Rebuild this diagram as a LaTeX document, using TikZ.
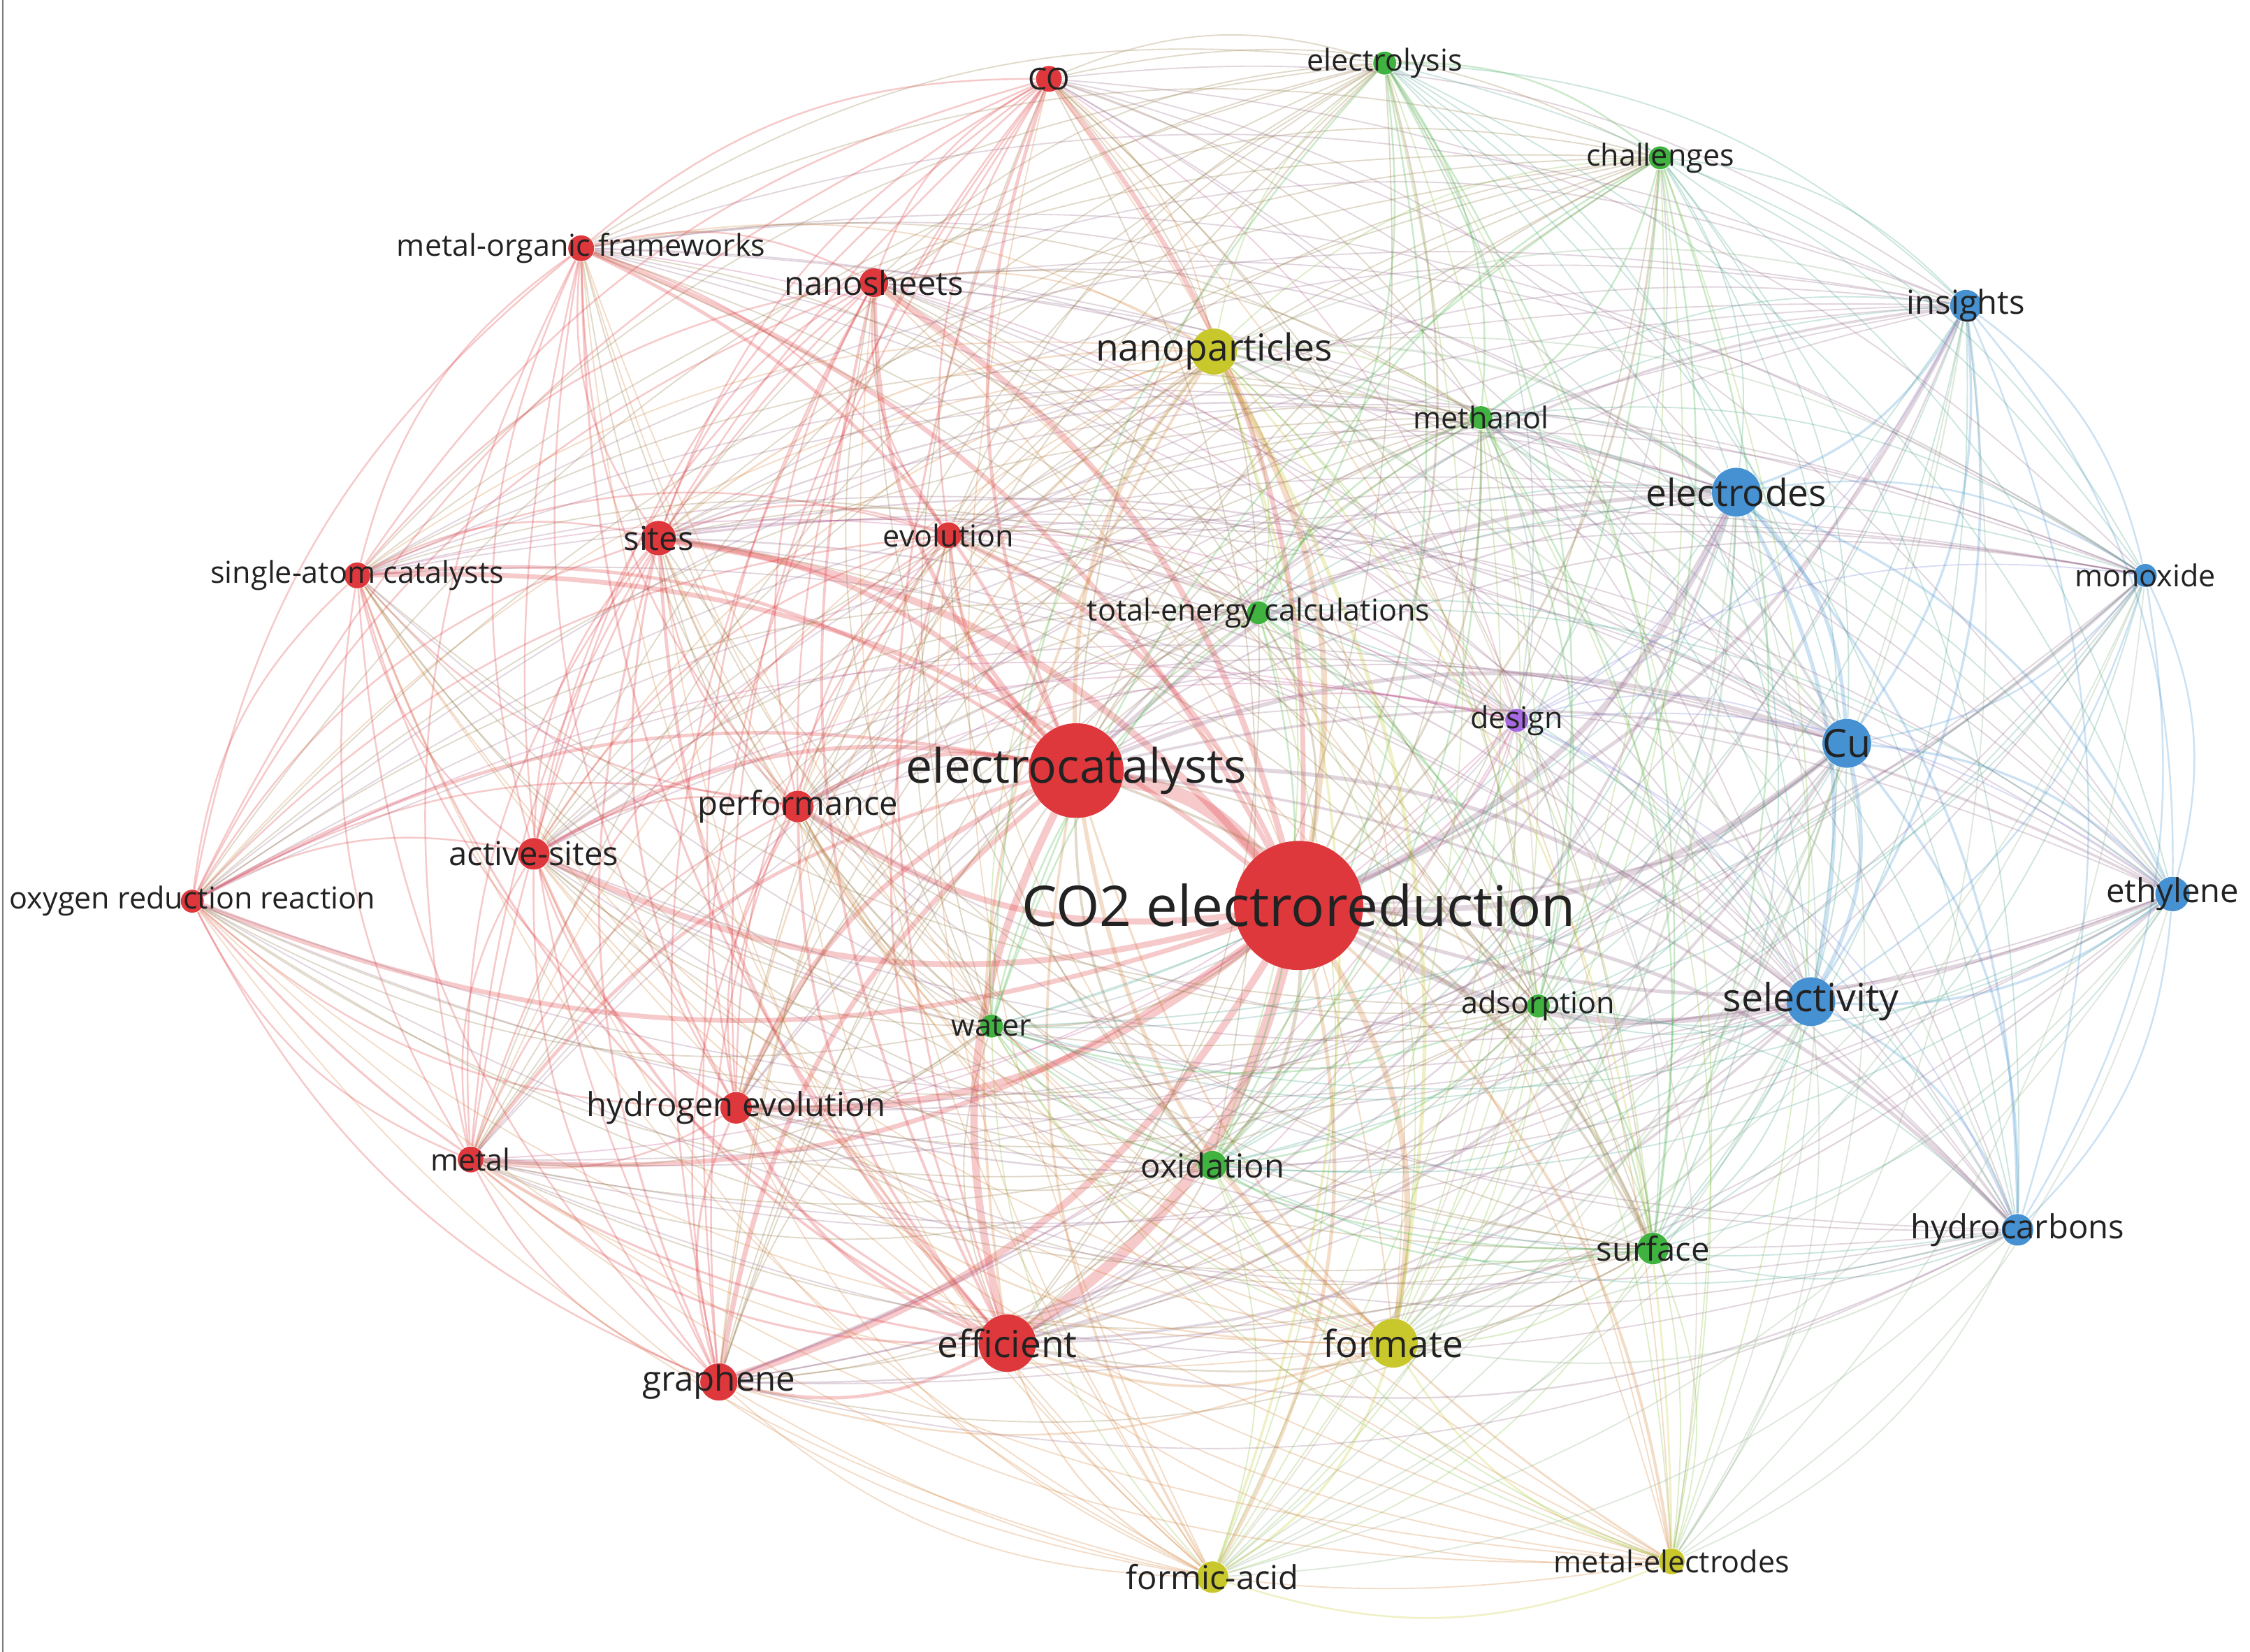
\documentclass[tikz,border=0pt]{standalone}
\usepackage{fontspec}
\setmainfont{Open Sans}
\definecolor{cR}{RGB}{222,56,60}
\definecolor{cG}{RGB}{64,178,64}
\definecolor{cB}{RGB}{70,145,210}
\definecolor{cY}{RGB}{200,200,45}
\definecolor{cP}{RGB}{165,105,225}
\definecolor{txt}{RGB}{34,34,34}
\pgfdeclarelayer{bg}
\pgfsetlayers{bg,main}
\def\netnodes{%
co2/905/631/cR/10/45/39/CO2 electroreduction,
ecat/750/537/cR/7/33/33/electrocatalysts,
eff/702/936/cR/4.5/20/26/efficient,
form/971/936/cY/4/17/26/formate,
sel/1262/698/cB/4/17/27/selectivity,
cu/1287/518/cB/4/17/27/Cu,
elec/1210/343/cB/4/17/26/electrodes,
nanop/846/245/cY/4/16/26/nanoparticles,
graph/501/963/cR/3/13/24/graphene,
sites/459/375/cR/3/12/23/sites,
nanos/609/197/cR/2.5/10/23/nanosheets,
hev/513/772/cR/3/11/23/hydrogen evolution,
acts/372/595/cR/2.5/11/23/active-sites,
perf/556/562/cR/2.5/11/23/performance,
ins/1370/213/cB/2.5/11/23/insights,
hc/1406/857/cB/2.5/11/23/hydrocarbons,
eth/1514/623/cB/2.5/12/23/ethylene,
fa/845/1099/cY/2.5/11/23/formic-acid,
surf/1152/870/cG/2.5/11/23/surface,
oxid/845/812/cG/2.5/10/23/oxidation,
mof/405/173/cR/2/9/21/metal-organic frameworks,
sac/249/401/cR/2/9/21/single-atom catalysts,
orr/134/628/cR/2/8/21/oxygen reduction reaction,
metal/328/808/cR/2/9/21/metal,
evol/661/373/cR/2/9/21/evolution,
co/731/55/cR/2/9/21/CO,
me/1165/1088/cY/2/9/21/metal-electrodes,
water/691/715/cG/1.5/8/21/water,
ads/1072/701/cG/1.5/8/21/adsorption,
design/1057/502/cP/1.5/8/21/design,
meth/1032/291/cG/1.5/8/21/methanol,
tec/877/427/cG/1.5/8/21/total-energy calculations,
elys/965/44/cG/1.5/8/21/electrolysis,
chal/1157/110/cG/1.5/8/21/challenges,
mono/1495/401/cB/1.5/8/21/monoxide}
\tikzset{
  kw/.style={circle, inner sep=0pt, draw=none},
  kwlabel/.style={text=txt, inner sep=0pt},
  link/.style={draw opacity=0.27, line cap=round}
}
\begin{document}
\begin{tikzpicture}[x=0.25pt, y=-0.25pt]
\useasboundingbox (0,0) rectangle (1568,1151);
\coordinate (ltop) at (2,0);
\coordinate (lbot) at (2,1151);
\draw[color={rgb,255:red,120;green,120;blue,120}, line width=0.2pt] (ltop) -- (lbot);
% keyword nodes
\foreach \n/\x/\y/\c/\w/\r/\f/\t in \netnodes {
  \pgfmathsetmacro\dd{\r/2}
  \pgfmathsetmacro\fs{\f/4}
  \node[kw, fill=\c, minimum size=\dd pt,
        label={[kwlabel, font=\fontsize{\fs}{\fs}\selectfont]center:\t}] (\n) at (\x,\y) {};
}
% co-occurrence links
\begin{pgfonlayer}{bg}
\fill[white] (0,0) rectangle (1568,1151);
\foreach \na/\xa/\ya/\ca/\wa/\ra/\fa/\ta [count=\i] in \netnodes {
  \foreach \nb/\xb/\yb/\cb/\wb/\rb/\fb/\tb [count=\j] in \netnodes {
    \ifnum\j>\i
      \pgfmathsetmacro\crs{((\xa-800)/100)*((\yb-600)/100)-((\ya-600)/100)*((\xb-800)/100)}
      \pgfmathsetmacro\bnd{\crs>0?20:-20}
      \ifx\ca\cb
        \pgfmathsetmacro\lw{min(10,max(1.2,\wa*\wb/6))/4}
      \else
        \pgfmathsetmacro\lw{min(8,max(0.9,\wa*\wb/10))/4}
      \fi
      \draw[link, draw=\ca!50!\cb, line width=\lw pt] (\na) to[bend left=\bnd] (\nb);
    \fi
  }
}
\end{pgfonlayer}
\end{tikzpicture}
\end{document}
